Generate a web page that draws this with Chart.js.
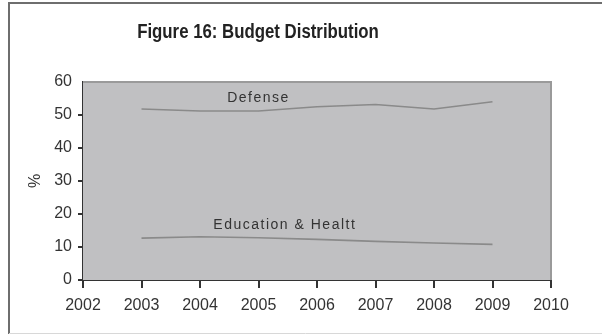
<!DOCTYPE html>
<html>
<head>
<meta charset="utf-8">
<script src="https://cdn.jsdelivr.net/npm/chart.js@4/dist/chart.umd.min.js"></script>
<style>
  html, body { margin: 0; padding: 0; background: #fff; }
  #wrap { position: relative; width: 602px; height: 334px; }
</style>
</head>
<body>
<div id="wrap"><canvas id="budget" width="602" height="334"></canvas></div>
<script>
// budget share by year, in percent
const years = [2003, 2004, 2005, 2006, 2007, 2008, 2009]
const defense = [51.8, 51.2, 51.2, 52.5, 53.2, 51.8, 54.0]
const eduHealth = [12.7, 13.1, 12.8, 12.3, 11.7, 11.2, 10.8]
const yTicks = [0, 10, 20, 30, 40, 50, 60]
const xRange = [2002, 2010]

const titleText = 'Figure 16: Budget Distribution'
const seriesLabels = [
    { text: 'Defense', x: 2005.0, y: 55.2 },
    { text: 'Education & Healtt', x: 2005.45, y: 16.7 }
]

// grey plot panel, outer frame, title and the in-plot series labels
const decor = {
    id: 'decor',
    beforeDatasetsDraw(chart) {
        const { ctx, chartArea: a } = chart
        ctx.save()
        ctx.fillStyle = '#c0c0c2'
        ctx.fillRect(a.left, a.top, a.right - a.left, a.bottom - a.top)
        ctx.strokeStyle = '#9a9a9a'
        ctx.lineWidth = 2
        ctx.beginPath()
        ctx.moveTo(a.left, a.top)
        ctx.lineTo(a.right, a.top)
        ctx.lineTo(a.right, a.bottom)
        ctx.stroke()
        ctx.restore()
    },
    afterDraw(chart) {
        const { ctx, scales: { x, y } } = chart
        ctx.save()
        // frame round the figure
        ctx.strokeStyle = '#6e6e6e'
        ctx.lineWidth = 2
        ctx.beginPath()
        ctx.moveTo(9, 334)
        ctx.lineTo(9, 3)
        ctx.lineTo(602, 3)
        ctx.stroke()
        ctx.strokeStyle = '#d8d8d8'
        ctx.lineWidth = 1
        ctx.beginPath()
        ctx.moveTo(9, 333.5)
        ctx.lineTo(602, 333.5)
        ctx.stroke()

        // condensed bold title
        ctx.fillStyle = '#222'
        ctx.textAlign = 'center'
        ctx.textBaseline = 'middle'
        ctx.save()
        ctx.translate(258, 32)
        ctx.scale(0.84, 1)
        ctx.font = 'bold 20px "Liberation Sans", Arial, sans-serif'
        ctx.fillText(titleText, 0, 0)
        ctx.restore()

        ctx.fillStyle = '#333'
        ctx.font = '14px "Liberation Sans", Arial, sans-serif'
        ctx.letterSpacing = '1.5px'
        seriesLabels.forEach(l => {
            ctx.fillText(l.text, x.getPixelForValue(l.x), y.getPixelForValue(l.y))
        })
        ctx.restore()
    }
}

const tickFont = { family: '"Liberation Sans", Arial, sans-serif', size: 16 }

new Chart(document.getElementById('budget'), {
    type: 'line',
    data: {
        datasets: [
            {
                label: 'Defense',
                data: years.map((yr, i) => ({ x: yr, y: defense[i] })),
                borderColor: '#8a8a8a',
                borderWidth: 1.6,
                pointRadius: 0,
                tension: 0
            }, {
                label: 'Education & Health',
                data: years.map((yr, i) => ({ x: yr, y: eduHealth[i] })),
                borderColor: '#8a8a8a',
                borderWidth: 1.6,
                pointRadius: 0,
                tension: 0
            }
        ]
    },
    options: {
        responsive: false,
        animation: false,
        layout: { padding: { top: 82, left: 22, right: 51, bottom: 8 } },
        plugins: {
            legend: { display: false },
            tooltip: { enabled: false }
        },
        scales: {
            x: {
                type: 'linear',
                min: xRange[0],
                max: xRange[1],
                afterFit: s => { s.height = 46 },
                ticks: { stepSize: 1, color: '#333', font: tickFont, padding: 8, maxRotation: 0,
                    callback: v => String(v) },
                grid: { drawOnChartArea: false, drawTicks: true, tickLength: 8, color: '#333', lineWidth: 2 },
                border: { color: '#333', width: 2 }
            },
            y: {
                min: 0,
                max: 60,
                afterFit: s => { s.width = 61 },
                afterBuildTicks: s => { s.ticks = yTicks.map(v => ({ value: v })) },
                ticks: { color: '#333', font: tickFont, padding: 6 },
                title: { display: true, text: '%', color: '#333', font: tickFont, padding: { top: 4, bottom: 0 } },
                grid: {
                    tickLength: 5,
                    lineWidth: 2,
                    color: c => (c.tick && c.tick.value === 60) ? 'rgba(0,0,0,0)' : '#333'
                },
                border: { color: '#333', width: 2 }
            }
        }
    },
    plugins: [decor]
})
</script>
</body>
</html>
